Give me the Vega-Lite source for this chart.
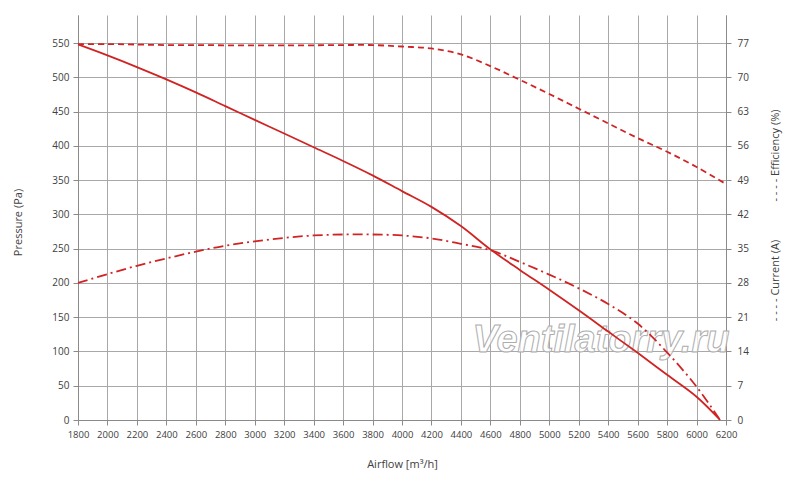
{
  "$schema": "https://vega.github.io/schema/vega-lite/v6.json",
  "width": 648,
  "height": 405,
  "autosize": "none",
  "padding": {"left": 78, "top": 15, "right": 74, "bottom": 65},
  "background": "#ffffff",
  "datasets": {
    "pressure": [
      {"q": 1800, "v": 548}, {"q": 2000, "v": 532}, {"q": 2200, "v": 515},
      {"q": 2400, "v": 497}, {"q": 2600, "v": 478}, {"q": 2800, "v": 458},
      {"q": 3000, "v": 438}, {"q": 3200, "v": 418}, {"q": 3400, "v": 398},
      {"q": 3600, "v": 378}, {"q": 3800, "v": 357}, {"q": 4000, "v": 334},
      {"q": 4200, "v": 311}, {"q": 4400, "v": 283}, {"q": 4600, "v": 249},
      {"q": 4800, "v": 219}, {"q": 5000, "v": 190}, {"q": 5200, "v": 160},
      {"q": 5400, "v": 129}, {"q": 5600, "v": 98}, {"q": 5800, "v": 66},
      {"q": 6000, "v": 34}, {"q": 6160, "v": 0}
    ],
    "current": [
      {"q": 1800, "v": 76.8}, {"q": 2000, "v": 76.8}, {"q": 2200, "v": 76.7},
      {"q": 2400, "v": 76.6}, {"q": 2600, "v": 76.6}, {"q": 2800, "v": 76.55},
      {"q": 3000, "v": 76.55}, {"q": 3200, "v": 76.55}, {"q": 3400, "v": 76.55},
      {"q": 3600, "v": 76.6}, {"q": 3800, "v": 76.6}, {"q": 4000, "v": 76.3},
      {"q": 4200, "v": 75.9}, {"q": 4400, "v": 74.7}, {"q": 4600, "v": 72.3},
      {"q": 4800, "v": 69.5}, {"q": 5000, "v": 66.6}, {"q": 5200, "v": 63.6},
      {"q": 5400, "v": 60.6}, {"q": 5600, "v": 57.6}, {"q": 5800, "v": 54.8},
      {"q": 6000, "v": 51.7}, {"q": 6200, "v": 48.2}
    ],
    "efficiency": [
      {"q": 1800, "v": 28.0}, {"q": 2000, "v": 29.8}, {"q": 2200, "v": 31.5},
      {"q": 2400, "v": 33.0}, {"q": 2600, "v": 34.4}, {"q": 2800, "v": 35.6},
      {"q": 3000, "v": 36.5}, {"q": 3200, "v": 37.2}, {"q": 3400, "v": 37.7},
      {"q": 3600, "v": 37.9}, {"q": 3800, "v": 37.9}, {"q": 4000, "v": 37.7},
      {"q": 4200, "v": 37.1}, {"q": 4400, "v": 36.0}, {"q": 4600, "v": 34.7},
      {"q": 4800, "v": 32.3}, {"q": 5000, "v": 29.7}, {"q": 5200, "v": 26.9},
      {"q": 5400, "v": 23.7}, {"q": 5600, "v": 19.7}, {"q": 5800, "v": 13.8},
      {"q": 6000, "v": 6.8}, {"q": 6160, "v": 0}
    ],
    "watermark": [{"q": 5351, "v": 116, "label": "Ventilatorry.ru"}]
  },
  "encoding": {
    "x": {
      "field": "q",
      "type": "quantitative",
      "scale": {"domain": [1800, 6200], "nice": false, "zero": false},
      "axis": {
        "values": [1800, 2000, 2200, 2400, 2600, 2800, 3000, 3200, 3400, 3600, 3800, 4000, 4200, 4400, 4600, 4800, 5000, 5200, 5400, 5600, 5800, 6000, 6200],
        "format": "d",
        "labelOverlap": false,
        "labelFlush": false,
        "labelFontSize": 9.5,
        "title": "Airflow [m³/h]",
        "titlePadding": 20,
        "labelPadding": 4
      }
    }
  },
  "layer": [
    {
      "layer": [
        {
          "data": {"name": "watermark"},
          "mark": {
            "type": "text",
            "font": "Liberation Sans",
            "fontSize": 38,
            "fontStyle": "italic",
            "fontWeight": "bold",
            "fill": "#ffffff",
            "fillOpacity": 0.75,
            "stroke": "#adadad",
            "strokeWidth": 1,
            "baseline": "middle",
            "clip": false
          },
          "encoding": {
            "y": {"field": "v", "type": "quantitative"},
            "text": {"field": "label"}
          }
        },
        {
          "data": {"name": "pressure"},
          "mark": {"type": "line", "color": "#d02424", "strokeWidth": 1.8, "interpolate": "catmull-rom"},
          "encoding": {
            "y": {"field": "v", "type": "quantitative"}
          }
        }
      ],
      "encoding": {
        "y": {
          "scale": {"domain": [0, 591], "nice": false},
          "axis": {
            "orient": "left",
            "values": [0, 50, 100, 150, 200, 250, 300, 350, 400, 450, 500, 550],
            "title": "Pressure (Pa)",
            "titleX": -55,
            "titleY": 207,
            "titleAngle": 270,
            "labelPadding": 4
          }
        }
      }
    },
    {
      "data": {"name": "current"},
      "mark": {"type": "line", "color": "#d02424", "strokeWidth": 1.8, "strokeDash": [6, 4], "interpolate": "catmull-rom"},
      "encoding": {
        "y": {
          "field": "v",
          "type": "quantitative",
          "scale": {"domain": [0, 82.74], "nice": false},
          "axis": {
            "orient": "right",
            "values": [0, 7, 14, 21, 28, 35, 42, 49, 56, 63, 70, 77],
            "grid": false,
            "title": "- - - -  Current (A)",
            "titleX": 54,
            "titleY": 265,
            "titleAngle": 270,
            "labelPadding": 6
          }
        }
      }
    },
    {
      "data": {"name": "efficiency"},
      "mark": {"type": "line", "color": "#d02424", "strokeWidth": 1.8, "strokeDash": [10, 4, 2, 4], "interpolate": "catmull-rom"},
      "encoding": {
        "y": {
          "field": "v",
          "type": "quantitative",
          "scale": {"domain": [0, 82.74], "nice": false},
          "axis": {
            "orient": "right",
            "labels": false,
            "ticks": false,
            "domain": false,
            "grid": false,
            "title": "- - - -  Efficiency (%)",
            "titleX": 54,
            "titleY": 140,
            "titleAngle": 270
          }
        }
      }
    }
  ],
  "resolve": {"scale": {"y": "independent"}},
  "config": {
    "view": {"stroke": null},
    "axis": {
      "labelFont": "Open Sans",
      "titleFont": "Open Sans",
      "labelFontSize": 10,
      "titleFontSize": 11,
      "titleFontWeight": "normal",
      "labelColor": "#404040",
      "titleColor": "#404040",
      "domainColor": "#8a8a8a",
      "tickColor": "#8a8a8a",
      "gridColor": "#a8a8a8",
      "gridOpacity": 1,
      "tickSize": 5,
      "grid": true
    }
  }
}
